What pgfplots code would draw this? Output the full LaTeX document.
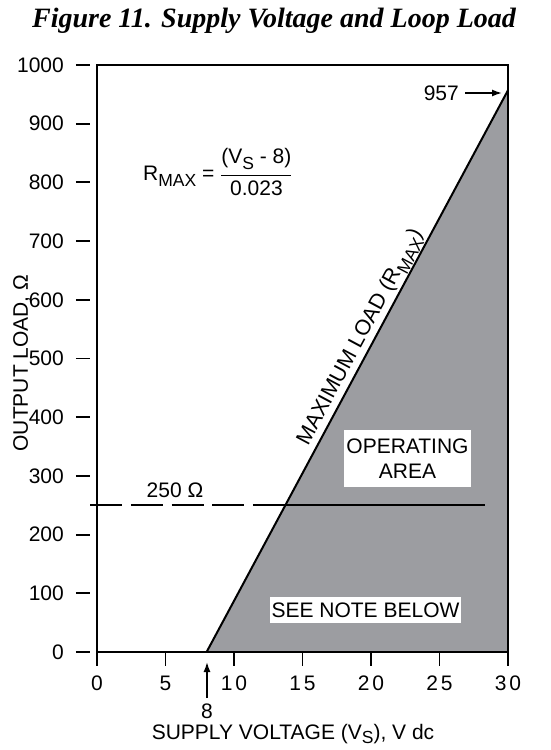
\documentclass[border=0pt]{standalone}
\usepackage{fontspec}
\usepackage{amsmath}
\setmainfont{Liberation Sans}
\newfontfamily\titlefont{Liberation Serif}
\usepackage{pgfplots}
\usetikzlibrary{arrows.meta}
\pgfplotsset{compat=1.18}
\definecolor{grayfill}{RGB}{156,157,161}
\newcommand{\sub}[1]{\raisebox{-0.55ex}{\fontsize{17.5}{17.5}\selectfont #1}}
\begin{document}
\fontsize{21}{25}\selectfont
\begin{tikzpicture}
\useasboundingbox (-97pt,-98pt) rectangle (453pt,652pt);
\begin{axis}[
  scale only axis,
  width=411pt, height=587pt,
  xmin=0, xmax=30, ymin=0, ymax=1000,
  axis line style={line width=2.5pt},
  axis on top,
  clip=false,
  tick pos=left,
  xtick={0,5,10,15,20,25,30},
  xticklabels={0,5,1\kern3pt0,1\kern3pt5,2\kern3pt0,2\kern3pt5,3\kern3pt0},
  ytick={0,100,200,300,400,500,600,700,800,900,1000},
  yticklabels={0,100,200,300,400,500,600,700,800,900,1000},
  tick align=outside,
  major tick length=14pt,
  xtick style={line width=1.8pt, black},
  ytick style={line width=1.8pt, black, xshift=-7pt},
  yticklabel style={font=\fontsize{21}{25}\selectfont, anchor=east, xshift=-12pt},
  xticklabel style={font=\fontsize{21}{25}\selectfont, anchor=north, yshift=-3pt},
]
\addplot[fill=grayfill, draw=none] coordinates {(8,0) (30,957) (30,0)} -- cycle;
\addplot[black, line width=2pt] coordinates {(8,0) (30,957)};
\addplot[black, line width=1.8pt, dash pattern=on 32pt off 8.7pt] coordinates {(-0.5,250) (13.75,250)};
\addplot[black, line width=1.8pt] coordinates {(13.75,250) (28.3,250)};
\node[rotate=61.8, anchor=south, inner sep=1.5pt, font=\fontsize{21.5}{25}\selectfont] at (axis cs:20.1,526) {MAXIMUM LOAD (R\sub{MAX})};
\end{axis}
\node at (177pt,631pt) {\titlefont\bfseries\itshape\fontsize{28}{30}\selectfont Figure 11. Supply Voltage and Loop Load};
\node[rotate=90] at (-75pt,289pt) {OUTPUT LOAD, Ω};
\node[anchor=base] at (196pt,-87pt) {SUPPLY VOLTAGE (V\raisebox{-0.45ex}{\fontsize{17.5}{17.5}\selectfont S}), V dc};
\node at (110pt,-59pt) {8};
\draw[line width=1.5pt, -{Latex[length=10pt,width=7pt]}] (110pt,-46pt) -- (110pt,-10pt);
\node[anchor=east, inner sep=1pt] at (363pt,559pt) {957};
\draw[line width=1.5pt, -{Latex[length=10pt,width=7pt]}] (368pt,559pt) -- (405pt,559pt);
\node[anchor=west, inner sep=0pt] at (46pt,480pt) {R\sub{MAX} = $\genfrac{}{}{1.5pt}{0}{\text{(V\sub{S} - 8)}}{\text{0.023}}$};
\node[fill=white, minimum width=127pt, minimum height=57pt, align=center, inner sep=0pt] at (310.5pt,193.5pt) {OPERATING\\AREA};
\node[fill=white, minimum width=191pt, minimum height=26pt, inner sep=0pt] at (268.5pt,42pt) {SEE NOTE BELOW};
\node at (78pt,162pt) {250 Ω};
\end{tikzpicture}
\end{document}
